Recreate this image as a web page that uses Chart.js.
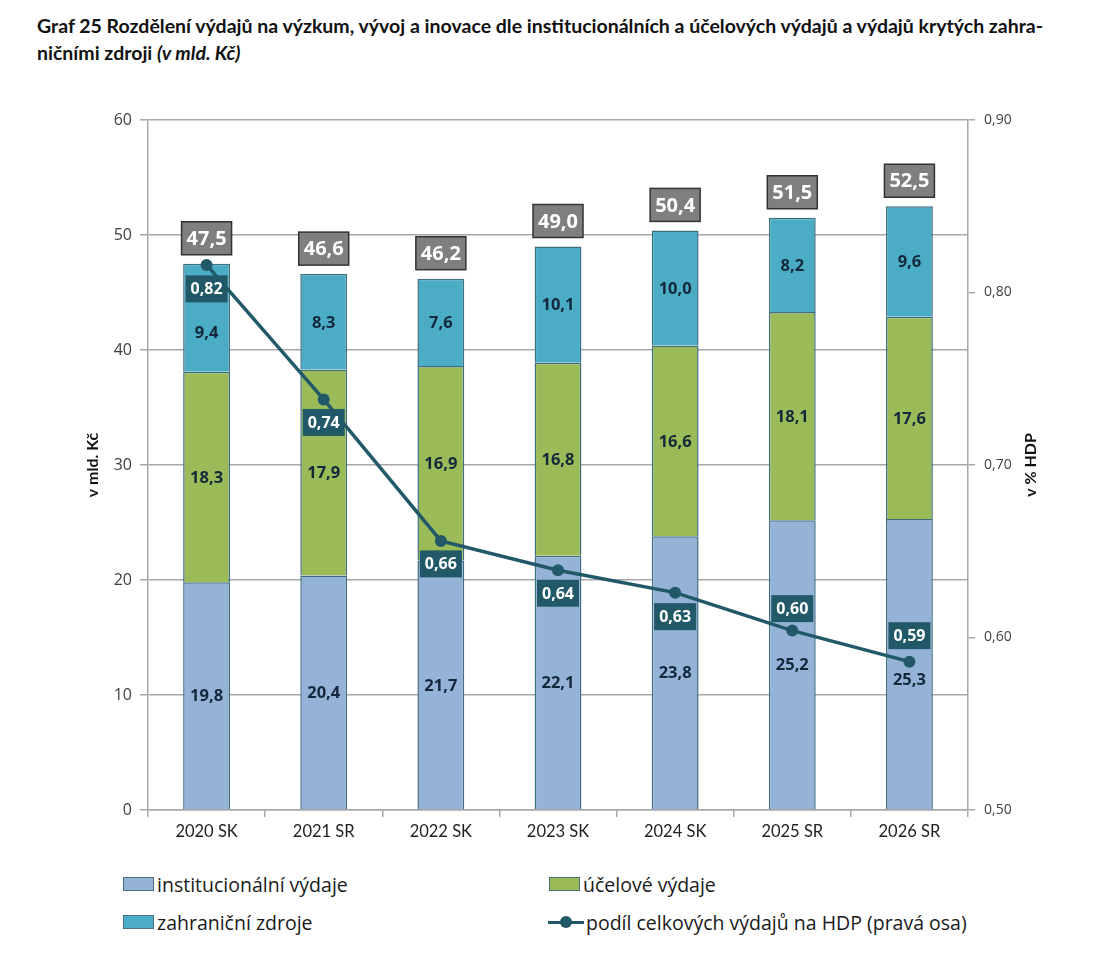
<!DOCTYPE html>
<html>
<head>
<meta charset="utf-8">
<script src="https://cdn.jsdelivr.net/npm/chart.js@4.4.1/dist/chart.umd.min.js"></script>
<style>
  html, body { margin:0; padding:0; background:#fff; }
  body { width:1108px; height:958px; position:relative; overflow:hidden; }
  #title { position:absolute; left:37px; top:12px; font-family:Lato, "Open Sans", sans-serif; font-weight:700; font-size:19.5px; line-height:27px; color:#111; }
  #wrap { position:absolute; left:0; top:0; width:1108px; height:860px; }
  #legend { position:absolute; left:0; top:860px; width:1108px; height:90px; font-family:"Open Sans", sans-serif; font-size:19.5px; color:#1a1a1a; }
  .li { position:absolute; display:flex; align-items:center; height:26px; white-space:nowrap; }
  .sw { width:29px; height:12px; border:1px solid #4a6f80; margin-right:3px; box-sizing:content-box; }
  .ln { width:36px; height:14px; margin-right:2px; position:relative; }
  .ln:before { content:""; position:absolute; left:0; right:0; top:6px; height:3px; background:#215968; }
  .ln:after { content:""; position:absolute; left:12px; top:1px; width:12px; height:12px; border-radius:50%; background:#215968; }
</style>
</head>
<body>
<div id="title">Graf 25 Rozdělení výdajů na výzkum, vývoj a inovace dle institucionálních a účelových výdajů a výdajů krytých zahra-<br>ničními zdroji <i>(v mld. Kč)</i></div>
<div id="wrap"><canvas id="c" width="1108" height="860"></canvas></div>
<div id="legend"></div>
<script>
const categories = ["2020 SK", "2021 SR", "2022 SK", "2023 SK", "2024 SK", "2025 SR", "2026 SR"];
const institucionalni = [19.8, 20.4, 21.7, 22.1, 23.8, 25.2, 25.3];
const ucelove = [18.3, 17.9, 16.9, 16.8, 16.6, 18.1, 17.6];
const zahranicni = [9.4, 8.3, 7.6, 10.1, 10.0, 8.2, 9.6];
const podilHDP = [0.816, 0.738, 0.656, 0.639, 0.626, 0.604, 0.586];
const leftTicks = [0, 10, 20, 30, 40, 50, 60];
const rightTicks = [0.50, 0.60, 0.70, 0.80, 0.90];

const seriesNames = ["institucionální výdaje", "účelové výdaje", "zahraniční zdroje", "podíl celkových výdajů na HDP (pravá osa)"];

const fmt1 = v => v.toFixed(1).replace('.', ',');
const fmt2 = v => v.toFixed(2).replace('.', ',');

const GRID = '#a8a8a8';
const TICKC = '#404040';

const labelsPlugin = {
  id: 'labelsPlugin',
  afterDatasetsDraw(chart, args, opts) {
    const ctx = chart.ctx;
    ctx.save();
    ctx.textAlign = 'center';
    ctx.textBaseline = 'middle';
    // segment labels
    ctx.font = 'bold 16.5px "Open Sans", sans-serif';
    ctx.fillStyle = '#13283a';
    for (let d = 0; d < 3; d++) {
      const meta = chart.getDatasetMeta(d);
      const data = chart.data.datasets[d].data;
      const so = opts.segOffsets[d];
      meta.data.forEach((el, i) => {
        ctx.fillText(fmt1(data[i]), el.x, (el.y + el.base) / 2 + 1 + so[i]);
      });
    }
    // totals
    const topMeta = chart.getDatasetMeta(2);
    ctx.font = 'bold 20px "Open Sans", sans-serif';
    topMeta.data.forEach((el, i) => {
      const total = institucionalni[i] + ucelove[i] + zahranicni[i];
      const w = 50, h = 33;
      const cy = el.y - 9 - h / 2;
      ctx.fillStyle = '#7f7f7f';
      ctx.fillRect(el.x - w / 2, cy - h / 2, w, h);
      ctx.lineWidth = 1.5;
      ctx.strokeStyle = '#333333';
      ctx.strokeRect(el.x - w / 2, cy - h / 2, w, h);
      ctx.fillStyle = '#ffffff';
      ctx.fillText(fmt1(total), el.x, cy + 1);
    });
    // line labels
    const lineMeta = chart.getDatasetMeta(3);
    ctx.font = 'bold 16px "Open Sans", sans-serif';
    const offs = opts.lineOffsets;
    lineMeta.data.forEach((el, i) => {
      const w = 42, h = 27;
      const cy = el.y + offs[i];
      ctx.fillStyle = '#215968';
      ctx.fillRect(el.x - w / 2, cy - h / 2, w, h);
      ctx.fillStyle = '#ffffff';
      ctx.fillText(fmt2(podilHDP[i]), el.x, cy + 1);
    });
    ctx.restore();
  },
  afterDraw(chart) {
    const ctx = chart.ctx;
    const a = chart.chartArea;
    const cy = (a.top + a.bottom) / 2;
    [[93, 'v mld. Kč'], [1031, 'v % HDP']].forEach(([x, txt]) => {
      ctx.save();
      ctx.font = 'bold 16px Lato, sans-serif';
      ctx.fillStyle = '#111';
      ctx.textAlign = 'center';
      ctx.textBaseline = 'middle';
      ctx.translate(x, cy);
      ctx.rotate(-Math.PI / 2);
      ctx.fillText(txt, 0, 0);
      ctx.restore();
    });
  }
};

const barBorder = '#3f6e80';

const chart = new Chart(document.getElementById('c'), {
  type: 'bar',
  data: {
    labels: categories,
    datasets: [
      { label: seriesNames[0], data: institucionalni, backgroundColor: '#95b3d7', borderColor: barBorder, borderWidth: 1.5, stack: 's', yAxisID: 'y', order: 2, categoryPercentage: 1, barPercentage: 0.4 },
      { label: seriesNames[1], data: ucelove, backgroundColor: '#9bbb59', borderColor: barBorder, borderWidth: 1.5, stack: 's', yAxisID: 'y', order: 2, categoryPercentage: 1, barPercentage: 0.4 },
      { label: seriesNames[2], data: zahranicni, backgroundColor: '#4bacc6', borderColor: barBorder, borderWidth: 1.5, stack: 's', yAxisID: 'y', order: 2, categoryPercentage: 1, barPercentage: 0.4 },
      { type: 'line', label: seriesNames[3], data: podilHDP, yAxisID: 'y1', borderColor: '#215968', backgroundColor: '#215968', borderWidth: 3.5, pointRadius: 6, pointBackgroundColor: '#215968', pointBorderWidth: 0, tension: 0, order: 1 }
    ]
  },
  options: {
    responsive: false,
    animation: false,
    devicePixelRatio: 1,
    layout: { padding: { left: 0, right: 0, top: 120, bottom: 0 } },
    plugins: {
      legend: { display: false },
      tooltip: { enabled: false },
      labelsPlugin: {
        lineOffsets: [24, 23, 23, 23, 24, -22, -26],
        segOffsets: [[0, 0, 0, 0, 0, 0, 15], [0, 0, 0, 0, 0, 0, 0], [14, 0, 0, 0, 0, 0, 0]]
      }
    },
    scales: {
      x: {
        stacked: true,
        offset: true,
        grid: { display: true, offset: true, drawOnChartArea: false, drawTicks: true, tickLength: 7, color: GRID, lineWidth: 1.5 },
        border: { display: true, color: GRID, width: 1.5 },
        ticks: { color: '#222', font: { family: 'Lato', size: 16.5 }, padding: 5, maxRotation: 0 },
        afterFit(s) { s.height = 50; }
      },
      y: {
        stacked: true,
        position: 'left',
        min: 0, max: 60,
        afterBuildTicks(s) { s.ticks = leftTicks.map(v => ({ value: v })); },
        grid: { color: GRID, lineWidth: 1.5, drawTicks: true, tickLength: 8 },
        border: { display: true, color: GRID, width: 1.5 },
        ticks: { color: TICKC, font: { family: 'Open Sans', size: 16 }, padding: 8, callback: v => String(v) },
        afterFit(s) { s.width = 148; }
      },
      y1: {
        position: 'right',
        min: 0.5, max: 0.9,
        afterBuildTicks(s) { s.ticks = rightTicks.map(v => ({ value: v })); },
        grid: { drawOnChartArea: false, drawTicks: true, tickLength: 7, color: GRID, lineWidth: 1.5 },
        border: { display: true, color: GRID, width: 1.5 },
        ticks: { color: TICKC, font: { family: 'Open Sans', size: 14 }, padding: 9, callback: v => fmt2(v) },
        afterFit(s) { s.width = 140; }
      }
    }
  },
  plugins: [labelsPlugin]
});

// HTML legend generated from datasets
const legendPos = [[123, 871], [549, 871], [123, 909], [548, 909]];
const legendEl = document.getElementById('legend');
chart.data.datasets.forEach((ds, i) => {
  const item = document.createElement('div');
  item.className = 'li';
  item.style.left = legendPos[i][0] + 'px';
  item.style.top = (legendPos[i][1] - 860) + 'px';
  const sym = document.createElement('span');
  if (ds.type === 'line') {
    sym.className = 'ln';
  } else {
    sym.className = 'sw';
    sym.style.background = ds.backgroundColor;
  }
  item.appendChild(sym);
  const t = document.createElement('span');
  t.textContent = ds.label;
  item.appendChild(t);
  legendEl.appendChild(item);
});
</script>
</body>
</html>
